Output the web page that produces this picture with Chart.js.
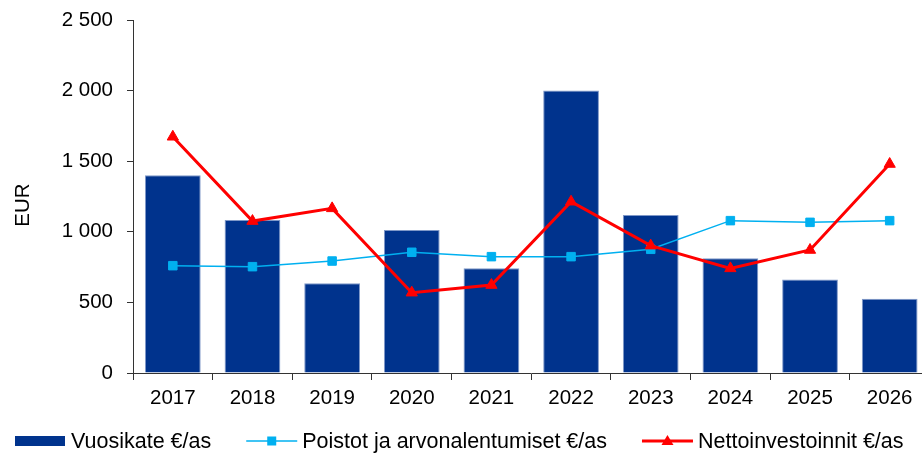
<!DOCTYPE html>
<html>
<head>
<meta charset="utf-8">
<script src="https://cdn.jsdelivr.net/npm/chart.js"></script>
<style>
  html, body { margin: 0; padding: 0; background: #fff; overflow: hidden; }
  #wrap { width: 937px; height: 454px; }
</style>
</head>
<body>
<div id="wrap"><canvas id="chart" width="937" height="454"></canvas></div>
<script>
// values
const years = ['2017', '2018', '2019', '2020', '2021', '2022', '2023', '2024', '2025', '2026'];
const vuosikate = [1400, 1083, 635, 1013, 741, 2000, 1119, 812, 663, 526];
const poistot = [760, 753, 793, 855, 824, 824, 876, 1079, 1067, 1079];
const netto = [1673, 1076, 1166, 569, 623, 1213, 902, 741, 871, 1480];
const seriesNames = ['Vuosikate €/as', 'Poistot ja arvonalentumiset €/as', 'Nettoinvestoinnit €/as'];
const yTitle = 'EUR';

const BAR_COLOR = '#00338d';
const BLUE = '#00b0f0';
const RED = '#ff0000';
const AXIS = '#333333';
const FONT = { family: 'Liberation Sans, Arial, sans-serif', size: 20.5 };
const LEGEND_FONT = '21.5px "Liberation Sans", Arial, sans-serif';

function fmt(v) {
  return String(v).replace(/\B(?=(\d{3})+(?!\d))/g, ' ');
}

// axis title and legend drawn by hand, the legend in one row under the x axis
const extras = {
  id: 'extras',
  afterDraw(chart) {
    const g = chart.ctx;
    g.save();
    g.font = '20.5px "Liberation Sans", Arial, sans-serif';
    g.fillStyle = '#000';
    g.textAlign = 'center';
    g.textBaseline = 'middle';
    g.translate(23, 205);
    g.rotate(-Math.PI / 2);
    g.fillText(yTitle, 0, 0);
    g.restore();

    const y = 441;
    let x = 15;
    g.save();
    g.font = LEGEND_FONT;
    g.textBaseline = 'middle';
    chart.data.datasets.forEach((ds, i) => {
      if (i === 0) {
        g.fillStyle = BAR_COLOR;
        g.fillRect(x, y - 5, 50, 10);
      } else {
        const col = ds.borderColor;
        g.strokeStyle = col;
        g.lineWidth = ds.borderWidth;
        g.beginPath(); g.moveTo(x, y); g.lineTo(x + 51, y); g.stroke();
        g.fillStyle = col;
        if (ds.pointStyle === 'rect') {
          g.fillRect(x + 21, y - 4.5, 9, 9);
        } else {
          g.beginPath(); g.moveTo(x + 25.5, y - 6); g.lineTo(x + 31.5, y + 4); g.lineTo(x + 19.5, y + 4); g.closePath(); g.fill();
        }
      }
      x += 56;
      g.fillStyle = '#000';
      g.fillText(ds.label, x, y + 1);
      x += g.measureText(ds.label).width + 35;
    });
    g.restore();
  }
};

const ctx = document.getElementById('chart').getContext('2d');
new Chart(ctx, {
  type: 'bar',
  data: {
    labels: years,
    datasets: [
      {
        type: 'bar',
        label: seriesNames[0],
        data: vuosikate,
        backgroundColor: BAR_COLOR,
        borderColor: '#7f98c8',
        borderWidth: 1,
        barPercentage: 0.7,
        categoryPercentage: 1.0,
        order: 3
      },
      {
        type: 'line',
        label: seriesNames[1],
        data: poistot,
        borderColor: BLUE,
        borderWidth: 1.5,
        backgroundColor: BLUE,
        pointStyle: 'rect',
        pointRadius: 6,
        pointBorderWidth: 1,
        pointBackgroundColor: BLUE,
        pointBorderColor: BLUE,
        tension: 0,
        order: 2
      },
      {
        type: 'line',
        label: seriesNames[2],
        data: netto,
        borderColor: RED,
        borderWidth: 3,
        backgroundColor: RED,
        pointStyle: 'triangle',
        pointRadius: 6.5,
        pointBorderWidth: 1,
        pointBackgroundColor: RED,
        pointBorderColor: RED,
        tension: 0,
        order: 1
      }
    ]
  },
  plugins: [extras],
  options: {
    responsive: false,
    animation: false,
    layout: { padding: { top: 20, right: 0, bottom: 46, left: 0 } },
    plugins: {
      tooltip: { enabled: false },
      legend: { display: false }
    },
    scales: {
      x: {
        offset: true,
        grid: { offset: true, drawOnChartArea: false, tickLength: 7, color: AXIS },
        border: { color: AXIS, width: 1 },
        ticks: { color: '#000', font: FONT, padding: 6, maxRotation: 0 },
        afterFit: (s) => { s.height = 35; }
      },
      y: {
        min: 0,
        max: 2500,
        grid: { drawOnChartArea: false, tickLength: 6, color: AXIS },
        border: { color: AXIS, width: 1 },
        ticks: { stepSize: 500, color: '#000', font: FONT, padding: 14, callback: (v) => fmt(v) },
        afterFit: (s) => { s.width = 133; s.paddingTop = 0; s.paddingBottom = 0; }
      }
    }
  }
});
</script>
</body>
</html>
